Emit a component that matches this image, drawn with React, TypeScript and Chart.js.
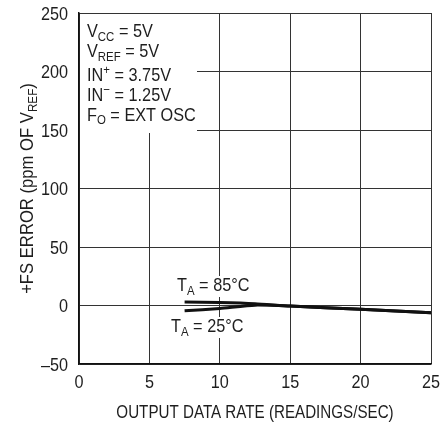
import React, { useEffect, useRef } from "react";
import { Chart, registerables } from "chart.js";
Chart.register(...registerables);

const rateX = [7.5, 10, 12.5, 15, 20, 25];
const err85 = [3, 2.5, 1.5, -0.5, -3.3, -6.3];
const err25 = [-4.5, -2.5, 0.3, -0.5, -3.3, -6.3];
const xTickValues = [0, 5, 10, 15, 20, 25];
const yTickValues = [-50, 0, 50, 100, 150, 200, 250];
const xTitle = "OUTPUT DATA RATE (READINGS/SEC)";
const label85 = "85°C";
const label25 = "25°C";

const FONT = '"Liberation Sans", Arial, sans-serif';
const INK = "#1e1e1e";

type Part = { t: string; sub?: boolean; sup?: boolean };

function setFont(ctx: CanvasRenderingContext2D, s: number) {
  ctx.font = `${s}px ${FONT}`;
}

function richWidth(ctx: CanvasRenderingContext2D, parts: Part[], size: number) {
  let w = 0;
  for (const p of parts) {
    setFont(ctx, p.sub || p.sup ? Math.round(size * 0.7) : size);
    w += ctx.measureText(p.t).width;
  }
  return w;
}

// draws condensed text: k = horizontal squeeze
function drawRich(
  ctx: CanvasRenderingContext2D,
  x: number,
  y: number,
  parts: Part[],
  size: number,
  k: number,
  align: "left" | "center" | "right" = "left"
) {
  ctx.save();
  ctx.translate(x, y);
  ctx.scale(k, 1);
  const w = richWidth(ctx, parts, size);
  let cx = align === "left" ? 0 : align === "center" ? -w / 2 : -w;
  ctx.textBaseline = "alphabetic";
  ctx.textAlign = "left";
  for (const p of parts) {
    const s = p.sub || p.sup ? Math.round(size * 0.7) : size;
    setFont(ctx, s);
    const dy = p.sub ? size * 0.2 : p.sup ? -size * 0.36 : 0;
    ctx.fillText(p.t, cx, dy);
    cx += ctx.measureText(p.t).width;
  }
  ctx.restore();
}

const fmtY = (v: number) => (v < 0 ? "–" + Math.abs(v) : String(v));

const tempLabels: { x: number; y: number; parts: Part[] }[] = [
  { x: 177, y: 291, parts: [{ t: "T" }, { t: "A", sub: true }, { t: " = " + label85 }] },
  { x: 171, y: 332, parts: [{ t: "T" }, { t: "A", sub: true }, { t: " = " + label25 }] },
];

const annotPlugin = {
  id: "annot",
  beforeDatasetsDraw(chart: any) {
    const ctx = chart.ctx as CanvasRenderingContext2D;
    const a = chart.chartArea;
    ctx.save();
    ctx.fillStyle = "#fff";
    ctx.fillRect(a.left + 1, a.top + 1, 117, 119);
    // label backgrounds
    for (const L of tempLabels) {
      const w = richWidth(ctx, L.parts, 18.5) * 0.88;
      ctx.fillStyle = "#fff";
      ctx.fillRect(L.x - 2, L.y - 15, w + 4, 21);
    }
    ctx.fillStyle = INK;
    const size = 18.5;
    const k = 0.88;
    const lx = a.left + 8;
    const lines: Part[][] = [
      [{ t: "V" }, { t: "CC", sub: true }, { t: " = 5V" }],
      [{ t: "V" }, { t: "REF", sub: true }, { t: " = 5V" }],
      [{ t: "IN" }, { t: "+", sup: true }, { t: " = 3.75V" }],
      [{ t: "IN" }, { t: "−", sup: true }, { t: " = 1.25V" }],
      [{ t: "F" }, { t: "O", sub: true }, { t: " = EXT OSC" }],
    ];
    const bases = [37, 57, 81, 101, 120.5];
    lines.forEach((ln, i) => drawRich(ctx, lx, bases[i], ln, size, k));
    ctx.restore();
  },
  afterDraw(chart: any) {
    const ctx = chart.ctx as CanvasRenderingContext2D;
    const a = chart.chartArea;
    const xs = chart.scales.x;
    const ys = chart.scales.y;
    ctx.save();
    ctx.fillStyle = INK;
    // tick labels
    for (const v of yTickValues) {
      drawRich(ctx, a.left - 11, ys.getPixelForValue(v) + 6.5, [{ t: fmtY(v) }], 18, 0.9, "right");
    }
    for (const v of xTickValues) {
      drawRich(ctx, xs.getPixelForValue(v), a.bottom + 24, [{ t: String(v) }], 18, 0.9, "center");
    }
    // x title
    drawRich(ctx, (a.left + a.right) / 2, 418, [{ t: xTitle }], 18.5, 0.82, "center");
    // temperature labels
    for (const L of tempLabels) drawRich(ctx, L.x, L.y, L.parts, 18.5, 0.88);
    // y title (rotated)
    ctx.save();
    ctx.translate(33, (a.top + a.bottom) / 2);
    ctx.rotate(-Math.PI / 2);
    drawRich(ctx, 0, 0, [{ t: "+FS ERROR (ppm OF V" }, { t: "REF", sub: true }, { t: ")" }], 18.5, 0.9, "center");
    ctx.restore();
    ctx.restore();
  },
};

export default function App() {
  const ref = useRef<HTMLCanvasElement | null>(null);
  useEffect(() => {
    if (!ref.current) return;
    const lineStyle = { borderColor: "#111", borderWidth: 3, pointRadius: 0, tension: 0.2 };
    const chart = new Chart(ref.current, {
      type: "line",
      data: {
        datasets: [
          { label: "85", data: rateX.map((x, i) => ({ x, y: err85[i] })), ...lineStyle },
          { label: "25", data: rateX.map((x, i) => ({ x, y: err25[i] })), ...lineStyle },
        ],
      },
      options: {
        responsive: false,
        animation: false,
        layout: { padding: { left: 0, right: 12, top: 13, bottom: 0 } },
        plugins: { legend: { display: false }, tooltip: { enabled: false } },
        scales: {
          x: {
            type: "linear",
            min: 0,
            max: 25,
            afterBuildTicks: (s: any) => {
              s.ticks = xTickValues.map((v) => ({ value: v }));
            },
            afterFit: (s: any) => {
              s.height = 60;
            },
            ticks: { display: false },
            grid: { color: "#333", lineWidth: 1, drawTicks: false },
            border: { color: "#111", width: 1.5 },
          },
          y: {
            type: "linear",
            min: -50,
            max: 250,
            afterBuildTicks: (s: any) => {
              s.ticks = yTickValues.map((v) => ({ value: v }));
            },
            afterFit: (s: any) => {
              s.width = 79;
            },
            ticks: { display: false },
            grid: { color: "#333", lineWidth: 1, drawTicks: false },
            border: { color: "#111", width: 1.5 },
          },
        },
      },
      plugins: [annotPlugin],
    } as any);
    return () => chart.destroy();
  }, []);
  return (
    <div style={{ position: "absolute", left: 0, top: 0, width: 443, height: 424, background: "#fff" }}>
      <canvas ref={ref} width={443} height={424} />
    </div>
  );
}
